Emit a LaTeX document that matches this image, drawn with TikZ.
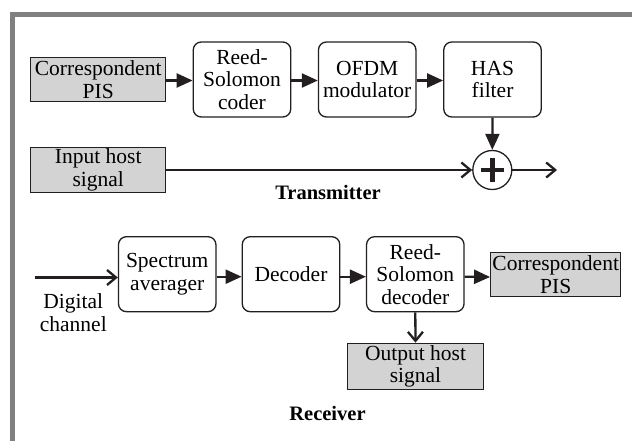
\documentclass[tikz,border=0pt]{standalone}
\usepackage{fontspec}
\setmainfont{Liberation Serif}
\usetikzlibrary{arrows.meta}
\definecolor{framegray}{HTML}{808080}
\definecolor{boxgray}{HTML}{D3D3D3}
\definecolor{inkdark}{HTML}{231F20}
\tikzset{
  txt/.style={font=\fontsize{21.5}{22.5}\selectfont, align=center, inner sep=0pt},
  roundbox/.style={txt, draw=inkdark, line width=1.3pt, fill=white, rounded corners=8pt,
                   minimum width=97.5pt, minimum height=75pt},
  graybox/.style={txt, draw=inkdark, line width=1.3pt, fill=boxgray,
                  minimum width=135pt, minimum height=44.6pt},
  flow/.style={draw=inkdark, line width=2.3pt, -{Triangle[length=16pt,width=14pt]}},
  feed/.style={draw=inkdark, line width=2.3pt, -{Straight Barb[length=9pt,width=15pt]}},
  caption/.style={font=\fontsize{20.5}{22}\selectfont\bfseries, inner sep=0pt},
}
\begin{document}
\begin{tikzpicture}[x=1pt,y=-1pt]
\useasboundingbox (0,0) rectangle (632,441);
% outer frame
\draw[framegray, line width=4.4pt] (12.5,441) -- (12.5,14.5) -- (632,14.5);

% ---------- transmitter ----------
\node[graybox] (cpis) at (98.2,79.5) {Correspondent\\PIS};
\node[roundbox] (rsc) at (242,79.5) {Reed-\\Solomon\\coder};
\node[roundbox] (ofdm) at (367.2,79.5) {OFDM\\modulator};
\node[roundbox] (has) at (492.5,79.5) {HAS\\filter};
\node[graybox] (ihs) at (98.2,170) {Input host\\signal};
\node[circle, draw=inkdark, line width=1.3pt, minimum size=39pt, inner sep=0pt] (sum) at (492.3,170) {};
\draw[inkdark, line width=4.5pt] ([xshift=-11.5pt]sum.center) -- ([xshift=11.5pt]sum.center)
      ([yshift=-11.5pt]sum.center) -- ([yshift=11.5pt]sum.center);
\coordinate (txout) at (557,170);
\node[caption] (txcap) at (328,192) {Transmitter};

\draw[flow] ([yshift=-1pt]cpis.east) -- ([yshift=-1pt]rsc.west);
\draw[flow] ([yshift=-1pt]rsc.east) -- ([yshift=-1pt]ofdm.west);
\draw[flow] ([yshift=-1pt]ofdm.east) -- ([yshift=-1pt]has.west);
\draw[flow] (has.south) -- (sum.north);
\draw[feed] (ihs.east) -- (sum.west);
\draw[feed] (sum.east) -- (txout);

% ---------- receiver ----------
\coordinate (rxin) at (35,277.5);
\node[roundbox] (spec) at (167.2,274.2) {Spectrum\\averager};
\node[roundbox] (dec) at (291,274.2) {Decoder};
\node[roundbox] (rsd) at (415.3,274.2) {Reed-\\Solomon\\decoder};
\node[graybox, minimum width=130pt, minimum height=44.4pt] (cpis2) at (555.7,274.5) {Correspondent\\PIS};
\node[graybox, minimum width=135.6pt, minimum height=46pt] (ohs) at (415.5,366.3) {Output host\\signal};
\node[txt] (dch) at (73.3,312.5) {Digital\\channel};
\node[caption] (rxcap) at (327.5,413.3) {Receiver};

\draw[feed] (rxin) -- (rxin -| spec.west);
\draw[flow] ([yshift=-2.5pt]spec.east) -- ([yshift=-2.5pt]dec.west);
\draw[flow] ([yshift=-2.5pt]dec.east) -- ([yshift=-2.5pt]rsd.west);
\draw[flow] ([yshift=-2.5pt]rsd.east) -- ([yshift=-2.5pt]cpis2.west);
\draw[feed] (rsd.south) -- (ohs.north);
\end{tikzpicture}
\end{document}
